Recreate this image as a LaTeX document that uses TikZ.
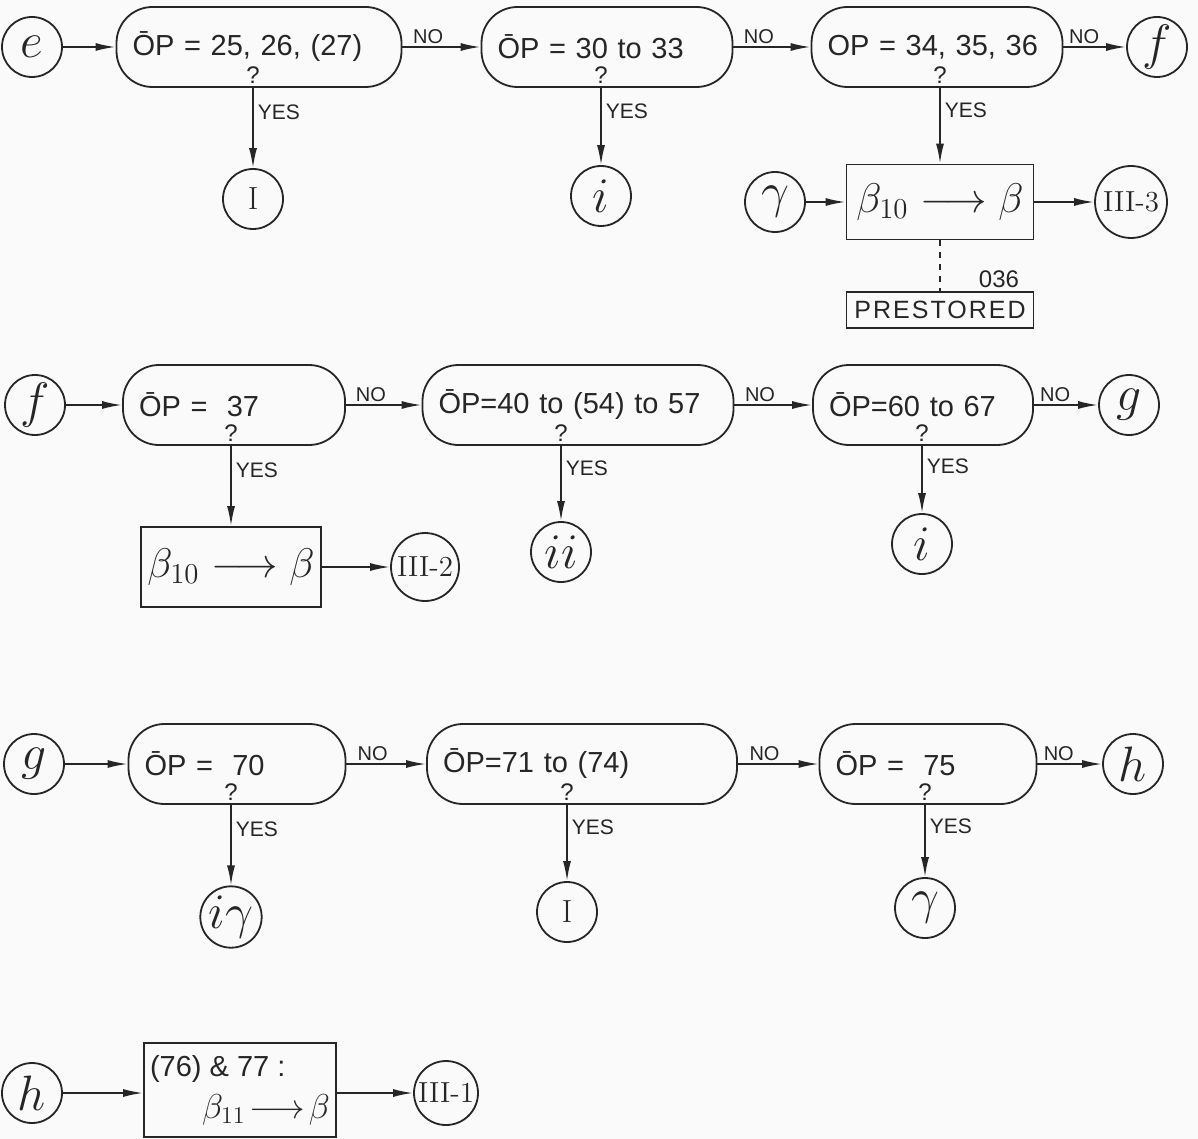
\documentclass[tikz,border=0pt]{standalone}
\usepackage{fontspec}
\setsansfont{Liberation Sans}
\usetikzlibrary{arrows.meta,positioning}

\begin{document}
\begin{tikzpicture}[x=0.5pt,y=-0.5pt,
  every node/.style={text=black!85},
  ink/.style={draw=black!85,line width=0.9pt},
  test/.style={ink,rounded corners=18pt,minimum height=40pt,text width=#1,
    inner xsep=8pt,align=left,font=\fontsize{14.5}{17}\selectfont\sffamily},
  box/.style={ink,minimum width=#1,inner sep=3pt},
  conn/.style={ink,circle,minimum size=30pt,inner sep=0pt,
    font=\fontsize{24}{24}\selectfont},
  roman/.style={conn,font=\fontsize{16}{16}\selectfont\rmfamily},
  arr/.style={ink,-{Latex[length=10pt,width=4pt]}},
  yes/.style={right,pos=.3,inner sep=2pt,font=\fontsize{10.5}{12}\selectfont\sffamily},
  no/.style={above,pos=.33,inner sep=1pt,font=\fontsize{10}{12}\selectfont\sffamily},
  qm/.style={above,inner sep=2pt,font=\fontsize{12}{12}\selectfont\sffamily}]
  \useasboundingbox[fill=black!2] (0,0) rectangle (1198,1139);

  % first row: e
  \node[conn] (e) at (32,47) {$e$};
  \node[test=126.5pt] (d1) at (259,47) {\=OP = 25, 26, (27)};
  \node[test=109.5pt] (d2) at (607,47) {\=OP = 30 to 33};
  \node[test=109.5pt] (d3) at (937,47) {OP = 34, 35, 36};
  \node[conn] (f1) at (1157,47) {$f$};
  \node[roman] (i1) at (253,199) {I};
  \node[conn] (c2) at (601,196) {$i$};
  \node[conn] (v1) at (775,202) {$\gamma$};
  \node[box=93.5pt,minimum height=37.5pt,font=\fontsize{20}{24}\selectfont] (r1) at (940,202) {$\beta_{10}\longrightarrow\beta$};
  \node[roman,minimum size=36pt,font=\fontsize{14.5}{16}\selectfont\rmfamily] (t3) at (1131,202) {III-3};
  \node[box=93.5pt,minimum height=18pt,inner sep=1pt,font=\fontsize{12.5}{14}\selectfont\sffamily\addfontfeature{LetterSpace=8}] (pre) at (940,310) {PRESTORED};
  \node[font=\fontsize{12}{14}\selectfont\sffamily] (n036) at (999,279) {036};
  \node[qm] (q1) at (d1.south -| i1) {?};
  \node[qm] (q2) at (d2.south -| c2) {?};
  \node[qm] (q3) at (d3.south -| r1) {?};

  \draw[arr] (e) -- (d1);
  \draw[arr] (d1) -- node[no]{NO} (d2);
  \draw[arr] (d2) -- node[no]{NO} (d3);
  \draw[arr] (d3) -- node[no]{NO} (f1);
  \draw[arr] (d1.south -| i1) -- node[yes]{YES} (i1);
  \draw[arr] (d2.south -| c2) -- node[yes]{YES} (c2);
  \draw[arr] (d3.south -| r1) -- node[yes]{YES} (r1);
  \draw[arr] (v1) -- (r1);
  \draw[arr] (r1) -- (t3);
  \draw[ink,dashed] (r1) -- (pre);

  % second row: f
  \node[conn] (f2) at (35,405) {$f$};
  \node[test=95pt] (d4) at (234,405) {\=OP = \ 37};
  \node[test=139.5pt] (d5) at (578,405) {\=OP=40 to (54) to 57};
  \node[test=94pt] (d6) at (923,405) {\=OP=60 to 67};
  \node[conn] (g1) at (1129,405) {$g$};
  \node[box=88.5pt,minimum height=40pt,font=\fontsize{20}{24}\selectfont] (r2) at (231,567) {$\beta_{10}\longrightarrow\beta$};
  \node[roman,minimum size=34pt,font=\fontsize{14.5}{16}\selectfont\rmfamily] (t2) at (425,567) {III-2};
  \node[conn] (c5) at (561,552) {$ii$};
  \node[conn] (c6) at (922,544) {$i$};
  \node[qm] (q4) at (d4.south -| r2) {?};
  \node[qm] (q5) at (d5.south -| c5) {?};
  \node[qm] (q6) at (d6.south -| c6) {?};

  \draw[arr] (f2) -- (d4);
  \draw[arr] (d4) -- node[no]{NO} (d5);
  \draw[arr] (d5) -- node[no]{NO} (d6);
  \draw[arr] (d6) -- node[no]{NO} (g1);
  \draw[arr] (d4.south -| r2) -- node[yes]{YES} (r2);
  \draw[arr] (d5.south -| c5) -- node[yes]{YES} (c5);
  \draw[arr] (d6.south -| c6) -- node[yes]{YES} (c6);
  \draw[arr] (r2) -- (t2);

  % third row: g
  \node[conn] (g2) at (34,764) {$g$};
  \node[test=92.5pt] (d7) at (237,764) {\=OP = \ 70};
  \node[test=139pt] (d8) at (582,764) {\=OP=71 to (74)};
  \node[test=92.5pt] (d9) at (928,764) {\=OP = \ 75};
  \node[conn] (h1) at (1133,764) {$h$};
  \node[conn] (c7) at (231,917) {$i\gamma$};
  \node[roman] (c8) at (567,912) {I};
  \node[conn] (c9) at (925,908) {$\gamma$};
  \node[qm] (q7) at (d7.south -| c7) {?};
  \node[qm] (q8) at (d8.south -| c8) {?};
  \node[qm] (q9) at (d9.south -| c9) {?};

  \draw[arr] (g2) -- (d7);
  \draw[arr] (d7) -- node[no]{NO} (d8);
  \draw[arr] (d8) -- node[no]{NO} (d9);
  \draw[arr] (d9) -- node[no]{NO} (h1);
  \draw[arr] (d7.south -| c7) -- node[yes]{YES} (c7);
  \draw[arr] (d8.south -| c8) -- node[yes]{YES} (c8);
  \draw[arr] (d9.south -| c9) -- node[yes]{YES} (c9);

  % last row: h
  \node[conn] (h2) at (32,1093) {$h$};
  \node[box=95.5pt,minimum height=47pt,align=left,font=\fontsize{14.5}{21}\selectfont\sffamily] (r3) at (240,1090) {(76) \& 77 :\\\hspace*{26pt}\fontsize{18}{21}\selectfont$\beta_{11}\!\longrightarrow\!\beta$};
  \node[roman,minimum size=32pt,font=\fontsize{14.5}{16}\selectfont\rmfamily] (t1) at (446,1093) {III-1};

  \draw[arr] (h2) -- (h2 -| r3.west);
  \draw[arr] (r3.east |- t1) -- (t1);
\end{tikzpicture}
\end{document}
